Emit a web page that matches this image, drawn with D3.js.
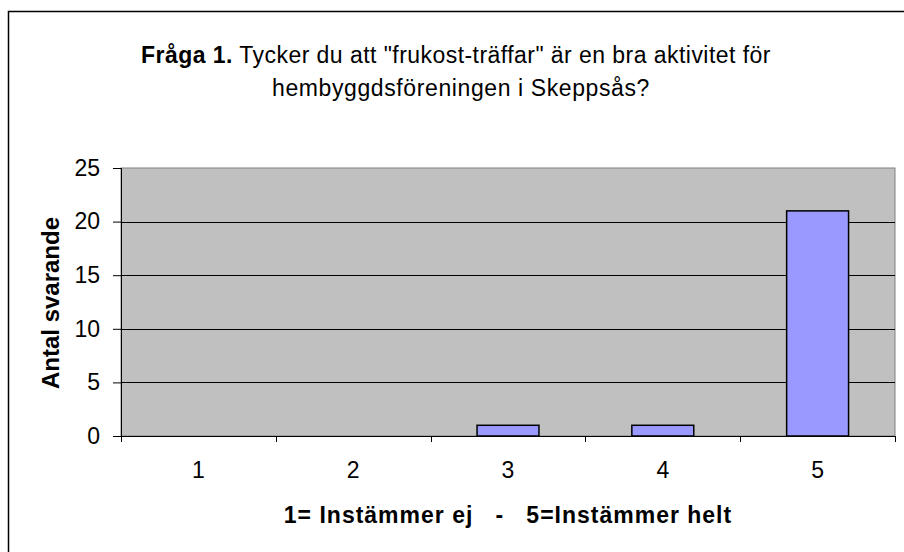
<!DOCTYPE html>
<html><head><meta charset="utf-8">
<script src="https://cdn.jsdelivr.net/npm/d3@7"></script>
<style>
html,body{margin:0;padding:0;background:#fff;}
svg{display:block;font-family:"Liberation Sans",Arial,Helvetica,sans-serif;}
</style></head>
<body><svg id="c" width="904" height="552"></svg>
<script>
const categories = ["1","2","3","4","5"];
const values = [0, 0, 1, 1, 21];
const yTicks = [0, 5, 10, 15, 20, 25];
const titleBold = "Fråga 1.";
const titleRest = " Tycker du att \"frukost-träffar\" är en bra aktivitet för";
const titleLine2 = "hembyggdsföreningen i Skeppsås?";
const yTitle = "Antal svarande";
const xTitle = "1= Instämmer ej   -   5=Instämmer helt";

const svg = d3.select("#c");
const m = {left:121, top:168, right:895, bottom:436};
const FS = 23;

// outer chart border
svg.append("rect").attr("x",8.5).attr("y",11.5).attr("width",920).attr("height",560)
  .attr("fill","#fff").attr("stroke","#000").attr("stroke-width",1.5);

const x = d3.scaleBand().domain(categories).range([m.left,m.right]).paddingInner(0.6).paddingOuter(0.3);
const y = d3.scaleLinear().domain([0,25]).range([m.bottom,m.top]);

// plot area
svg.append("rect").attr("x",m.left).attr("y",m.top).attr("width",m.right-m.left).attr("height",m.bottom-m.top)
  .attr("fill","#c0c0c0").attr("stroke","#808080").attr("stroke-width",1);

// gridlines
svg.append("g").selectAll("line").data(yTicks.filter(d=>d>0 && d<25)).join("line")
  .attr("x1",m.left).attr("x2",m.right).attr("y1",d=>Math.round(y(d))+0.5).attr("y2",d=>Math.round(y(d))+0.5)
  .attr("stroke","#000").attr("stroke-width",1);

// bars
const barData = categories.map((c,i)=>({c, v:values[i]})).filter(d=>d.v>0);
svg.append("g").selectAll("rect").data(barData).join("rect")
  .attr("x",d=>x(d.c)).attr("width",x.bandwidth())
  .attr("y",d=>y(d.v)).attr("height",d=>y(0)-y(d.v))
  .attr("fill","#9999ff").attr("stroke","#000").attr("stroke-width",1.5);

// y axis
const ya = d3.axisLeft(y).tickValues(yTicks).tickSize(8).tickPadding(13);
const gy = svg.append("g").attr("transform",`translate(${m.left},0)`).call(ya);
gy.select(".domain").attr("stroke","#000").attr("d",`M0.5,${m.top}V${m.bottom}`);
gy.selectAll(".tick line").attr("stroke","#000");
gy.selectAll("text").attr("font-size",FS).attr("fill","#000").attr("font-family","Liberation Sans, Arial, sans-serif");

// x axis with ticks at category boundaries
const xa = d3.axisBottom(x).tickSize(0).tickPadding(26);
const gx = svg.append("g").attr("transform",`translate(0,${m.bottom})`).call(xa);
gx.select(".domain").attr("stroke","#000").attr("stroke-width",1.2).attr("d",`M${m.left},0.5H${m.right}`);
gx.selectAll("text").attr("font-size",FS).attr("fill","#000").attr("font-family","Liberation Sans, Arial, sans-serif");
const bounds = d3.range(categories.length+1).map(i=> m.left + i*(m.right-m.left)/categories.length);
gx.append("g").selectAll("line").data(bounds).join("line")
  .attr("x1",d=>Math.round(d)+0.5).attr("x2",d=>Math.round(d)+0.5).attr("y1",0).attr("y2",6)
  .attr("stroke","#000");

// titles
const t = svg.append("text").attr("x",456).attr("y",63).attr("text-anchor","middle")
  .attr("font-size",FS).attr("letter-spacing",0.45).attr("fill","#000");
t.append("tspan").attr("font-weight","bold").text(titleBold);
t.append("tspan").text(titleRest);
svg.append("text").attr("x",461).attr("y",96).attr("text-anchor","middle")
  .attr("font-size",FS).attr("letter-spacing",0.6).attr("fill","#000").text(titleLine2);

svg.append("text").attr("transform","translate(59,303) rotate(-90)").attr("text-anchor","middle")
  .attr("font-size",24).attr("font-weight","bold").attr("fill","#000").text(yTitle);

svg.append("text").attr("x",508).attr("y",523).attr("text-anchor","middle")
  .attr("font-size",FS).attr("font-weight","bold").attr("letter-spacing",1).attr("fill","#000")
  .style("white-space","pre").text(xTitle);
</script></body></html>
